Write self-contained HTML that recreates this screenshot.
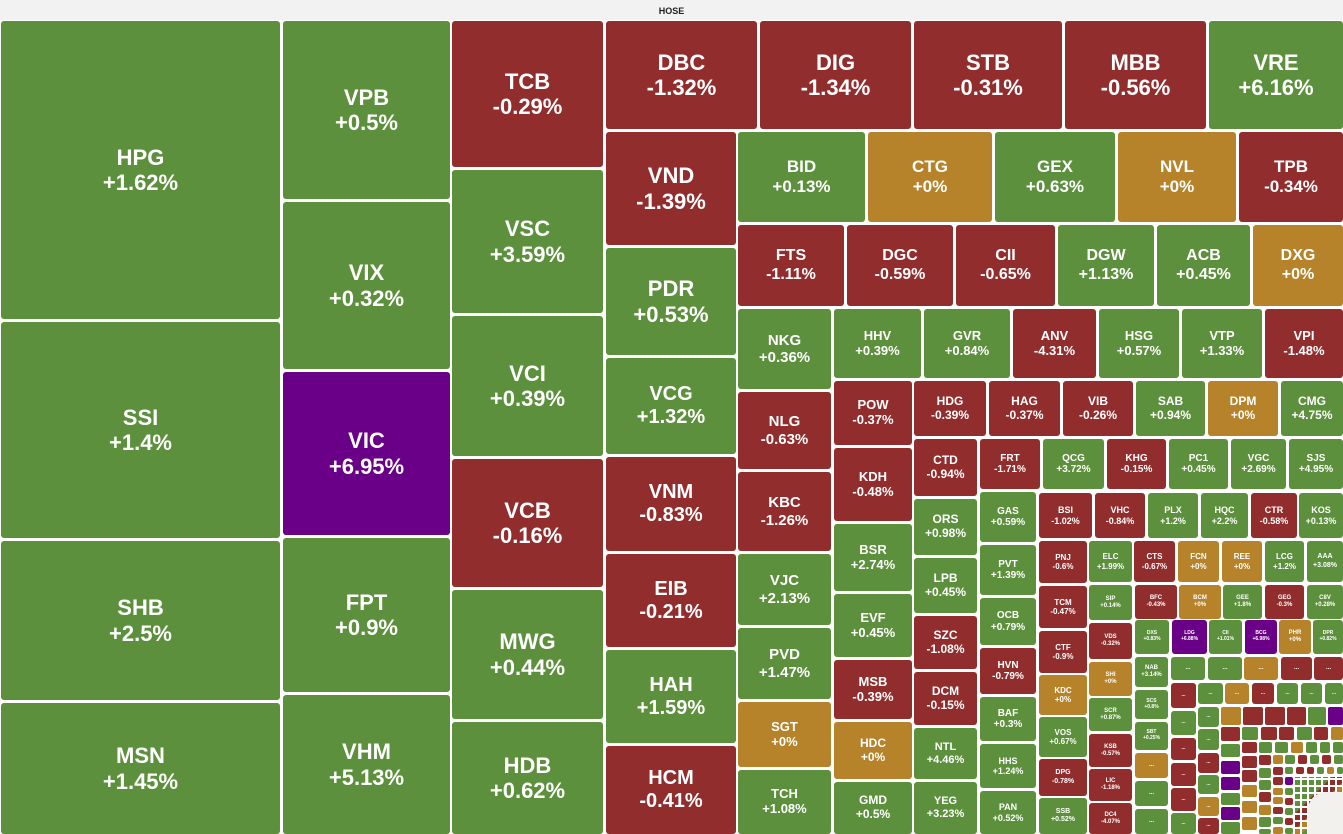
<!DOCTYPE html>
<html><head><meta charset="utf-8"><style>
body{margin:0;width:1343px;height:834px;background:#fff;position:relative;overflow:hidden;font-family:"Liberation Sans",Arial,sans-serif}
.t{position:absolute;left:0;top:0;width:1343px;height:20px;background:#f2f2f2;font-size:9px;font-weight:bold;text-align:center;line-height:22px;color:#222}
.c{position:absolute;display:flex;flex-direction:column;align-items:center;justify-content:center;color:#fff;font-weight:bold;border-radius:3px;line-height:1.15;text-align:center;overflow:hidden;white-space:nowrap}
.g{background:#5c903c}.r{background:#922d2e}.y{background:#b6822a}.p{background:#6b0088}
.s{position:absolute;border-radius:2px}
</style></head><body>
<div class="t">HOSE</div>
<div class="c g" style="left:1px;top:21px;width:279px;height:298px;font-size:22px">HPG<br>+1.62%</div>
<div class="c g" style="left:1px;top:322px;width:279px;height:216px;font-size:22px">SSI<br>+1.4%</div>
<div class="c g" style="left:1px;top:541px;width:279px;height:159px;font-size:22px">SHB<br>+2.5%</div>
<div class="c g" style="left:1px;top:703px;width:279px;height:131px;font-size:22px">MSN<br>+1.45%</div>
<div class="c g" style="left:283px;top:21px;width:167px;height:178px;font-size:22px">VPB<br>+0.5%</div>
<div class="c g" style="left:283px;top:202px;width:167px;height:167px;font-size:22px">VIX<br>+0.32%</div>
<div class="c p" style="left:283px;top:372px;width:167px;height:163px;font-size:22px">VIC<br>+6.95%</div>
<div class="c g" style="left:283px;top:538px;width:167px;height:154px;font-size:22px">FPT<br>+0.9%</div>
<div class="c g" style="left:283px;top:695px;width:167px;height:139px;font-size:22px">VHM<br>+5.13%</div>
<div class="c r" style="left:452px;top:21px;width:151px;height:146px;font-size:22px">TCB<br>-0.29%</div>
<div class="c g" style="left:452px;top:170px;width:151px;height:143px;font-size:22px">VSC<br>+3.59%</div>
<div class="c g" style="left:452px;top:316px;width:151px;height:140px;font-size:22px">VCI<br>+0.39%</div>
<div class="c r" style="left:452px;top:459px;width:151px;height:128px;font-size:22px">VCB<br>-0.16%</div>
<div class="c g" style="left:452px;top:590px;width:151px;height:129px;font-size:22px">MWG<br>+0.44%</div>
<div class="c g" style="left:452px;top:722px;width:151px;height:112px;font-size:22px">HDB<br>+0.62%</div>
<div class="c r" style="left:606px;top:21px;width:151px;height:108px;font-size:22px">DBC<br>-1.32%</div>
<div class="c r" style="left:760px;top:21px;width:151px;height:108px;font-size:22px">DIG<br>-1.34%</div>
<div class="c r" style="left:914px;top:21px;width:148px;height:108px;font-size:22px">STB<br>-0.31%</div>
<div class="c r" style="left:1065px;top:21px;width:141px;height:108px;font-size:22px">MBB<br>-0.56%</div>
<div class="c g" style="left:1209px;top:21px;width:134px;height:108px;font-size:22px">VRE<br>+6.16%</div>
<div class="c r" style="left:606px;top:132px;width:130px;height:113px;font-size:22px">VND<br>-1.39%</div>
<div class="c g" style="left:606px;top:248px;width:130px;height:107px;font-size:22px">PDR<br>+0.53%</div>
<div class="c g" style="left:606px;top:358px;width:130px;height:96px;font-size:20px">VCG<br>+1.32%</div>
<div class="c r" style="left:606px;top:457px;width:130px;height:94px;font-size:20px">VNM<br>-0.83%</div>
<div class="c r" style="left:606px;top:554px;width:130px;height:93px;font-size:20px">EIB<br>-0.21%</div>
<div class="c g" style="left:606px;top:650px;width:130px;height:93px;font-size:20px">HAH<br>+1.59%</div>
<div class="c r" style="left:606px;top:746px;width:130px;height:88px;font-size:20px">HCM<br>-0.41%</div>
<div class="c g" style="left:738px;top:132px;width:127px;height:90px;font-size:17px">BID<br>+0.13%</div>
<div class="c y" style="left:868px;top:132px;width:124px;height:90px;font-size:17px">CTG<br>+0%</div>
<div class="c g" style="left:995px;top:132px;width:120px;height:90px;font-size:17px">GEX<br>+0.63%</div>
<div class="c y" style="left:1118px;top:132px;width:118px;height:90px;font-size:17px">NVL<br>+0%</div>
<div class="c r" style="left:1239px;top:132px;width:104px;height:90px;font-size:17px">TPB<br>-0.34%</div>
<div class="c r" style="left:738px;top:225px;width:106px;height:81px;font-size:16px">FTS<br>-1.11%</div>
<div class="c r" style="left:847px;top:225px;width:106px;height:81px;font-size:16px">DGC<br>-0.59%</div>
<div class="c r" style="left:956px;top:225px;width:99px;height:81px;font-size:16px">CII<br>-0.65%</div>
<div class="c g" style="left:1058px;top:225px;width:96px;height:81px;font-size:16px">DGW<br>+1.13%</div>
<div class="c g" style="left:1157px;top:225px;width:93px;height:81px;font-size:16px">ACB<br>+0.45%</div>
<div class="c y" style="left:1253px;top:225px;width:90px;height:81px;font-size:16px">DXG<br>+0%</div>
<div class="c g" style="left:738px;top:309px;width:93px;height:80px;font-size:15px">NKG<br>+0.36%</div>
<div class="c g" style="left:834px;top:309px;width:87px;height:69px;font-size:13px">HHV<br>+0.39%</div>
<div class="c g" style="left:924px;top:309px;width:86px;height:69px;font-size:13px">GVR<br>+0.84%</div>
<div class="c r" style="left:1013px;top:309px;width:83px;height:69px;font-size:13px">ANV<br>-4.31%</div>
<div class="c g" style="left:1099px;top:309px;width:80px;height:69px;font-size:13px">HSG<br>+0.57%</div>
<div class="c g" style="left:1182px;top:309px;width:80px;height:69px;font-size:13px">VTP<br>+1.33%</div>
<div class="c r" style="left:1265px;top:309px;width:78px;height:69px;font-size:13px">VPI<br>-1.48%</div>
<div class="c r" style="left:738px;top:392px;width:93px;height:77px;font-size:15px">NLG<br>-0.63%</div>
<div class="c r" style="left:738px;top:472px;width:93px;height:79px;font-size:15px">KBC<br>-1.26%</div>
<div class="c g" style="left:738px;top:554px;width:93px;height:71px;font-size:15px">VJC<br>+2.13%</div>
<div class="c g" style="left:738px;top:628px;width:93px;height:71px;font-size:15px">PVD<br>+1.47%</div>
<div class="c y" style="left:738px;top:702px;width:93px;height:65px;font-size:13px">SGT<br>+0%</div>
<div class="c g" style="left:738px;top:770px;width:93px;height:64px;font-size:13px">TCH<br>+1.08%</div>
<div class="c r" style="left:834px;top:381px;width:78px;height:64px;font-size:13px">POW<br>-0.37%</div>
<div class="c r" style="left:834px;top:448px;width:78px;height:73px;font-size:13px">KDH<br>-0.48%</div>
<div class="c g" style="left:834px;top:524px;width:78px;height:67px;font-size:13px">BSR<br>+2.74%</div>
<div class="c g" style="left:834px;top:594px;width:78px;height:63px;font-size:13px">EVF<br>+0.45%</div>
<div class="c r" style="left:834px;top:660px;width:78px;height:59px;font-size:13px">MSB<br>-0.39%</div>
<div class="c y" style="left:834px;top:722px;width:78px;height:57px;font-size:12px">HDC<br>+0%</div>
<div class="c g" style="left:834px;top:782px;width:78px;height:52px;font-size:12px">GMD<br>+0.5%</div>
<div class="c r" style="left:914px;top:381px;width:72px;height:55px;font-size:12px">HDG<br>-0.39%</div>
<div class="c r" style="left:989px;top:381px;width:71px;height:55px;font-size:12px">HAG<br>-0.37%</div>
<div class="c r" style="left:1063px;top:381px;width:70px;height:55px;font-size:12px">VIB<br>-0.26%</div>
<div class="c g" style="left:1136px;top:381px;width:69px;height:55px;font-size:12px">SAB<br>+0.94%</div>
<div class="c y" style="left:1208px;top:381px;width:70px;height:55px;font-size:12px">DPM<br>+0%</div>
<div class="c g" style="left:1281px;top:381px;width:62px;height:55px;font-size:12px">CMG<br>+4.75%</div>
<div class="c r" style="left:914px;top:439px;width:63px;height:57px;font-size:12px">CTD<br>-0.94%</div>
<div class="c g" style="left:914px;top:499px;width:63px;height:56px;font-size:12px">ORS<br>+0.98%</div>
<div class="c g" style="left:914px;top:558px;width:63px;height:55px;font-size:12px">LPB<br>+0.45%</div>
<div class="c r" style="left:914px;top:616px;width:63px;height:53px;font-size:12px">SZC<br>-1.08%</div>
<div class="c r" style="left:914px;top:672px;width:63px;height:53px;font-size:12px">DCM<br>-0.15%</div>
<div class="c g" style="left:914px;top:728px;width:63px;height:51px;font-size:11px">NTL<br>+4.46%</div>
<div class="c g" style="left:914px;top:782px;width:63px;height:52px;font-size:11px">YEG<br>+3.23%</div>
<div class="c r" style="left:980px;top:439px;width:60px;height:50px;font-size:10px">FRT<br>-1.71%</div>
<div class="c g" style="left:1043px;top:439px;width:61px;height:50px;font-size:10px">QCG<br>+3.72%</div>
<div class="c r" style="left:1107px;top:439px;width:59px;height:50px;font-size:10px">KHG<br>-0.15%</div>
<div class="c g" style="left:1169px;top:439px;width:59px;height:50px;font-size:10px">PC1<br>+0.45%</div>
<div class="c g" style="left:1231px;top:439px;width:55px;height:50px;font-size:10px">VGC<br>+2.69%</div>
<div class="c g" style="left:1289px;top:439px;width:54px;height:50px;font-size:10px">SJS<br>+4.95%</div>
<div class="c g" style="left:980px;top:492px;width:56px;height:50px;font-size:10px">GAS<br>+0.59%</div>
<div class="c g" style="left:980px;top:545px;width:56px;height:50px;font-size:10px">PVT<br>+1.39%</div>
<div class="c g" style="left:980px;top:598px;width:56px;height:47px;font-size:10px">OCB<br>+0.79%</div>
<div class="c r" style="left:980px;top:648px;width:56px;height:46px;font-size:10px">HVN<br>-0.79%</div>
<div class="c g" style="left:980px;top:697px;width:56px;height:44px;font-size:10px">BAF<br>+0.3%</div>
<div class="c g" style="left:980px;top:744px;width:56px;height:44px;font-size:9px">HHS<br>+1.24%</div>
<div class="c g" style="left:980px;top:791px;width:56px;height:43px;font-size:9px">PAN<br>+0.52%</div>
<div class="c r" style="left:1039px;top:493px;width:53px;height:45px;font-size:9px">BSI<br>-1.02%</div>
<div class="c r" style="left:1095px;top:493px;width:50px;height:45px;font-size:9px">VHC<br>-0.84%</div>
<div class="c g" style="left:1148px;top:493px;width:50px;height:45px;font-size:9px">PLX<br>+1.2%</div>
<div class="c g" style="left:1201px;top:493px;width:47px;height:45px;font-size:9px">HQC<br>+2.2%</div>
<div class="c r" style="left:1251px;top:493px;width:46px;height:45px;font-size:9px">CTR<br>-0.58%</div>
<div class="c g" style="left:1299px;top:493px;width:44px;height:45px;font-size:9px">KOS<br>+0.13%</div>
<div class="c r" style="left:1039px;top:541px;width:48px;height:42px;font-size:8px">PNJ<br>-0.6%</div>
<div class="c r" style="left:1039px;top:586px;width:48px;height:42px;font-size:8px">TCM<br>-0.47%</div>
<div class="c r" style="left:1039px;top:631px;width:48px;height:42px;font-size:8px">CTF<br>-0.9%</div>
<div class="c y" style="left:1039px;top:675px;width:48px;height:40px;font-size:8px">KDC<br>+0%</div>
<div class="c g" style="left:1039px;top:717px;width:48px;height:40px;font-size:8px">VOS<br>+0.67%</div>
<div class="c r" style="left:1039px;top:759px;width:48px;height:37px;font-size:7px">DPG<br>-0.78%</div>
<div class="c g" style="left:1039px;top:798px;width:48px;height:36px;font-size:7px">SSB<br>+0.52%</div>
<div class="c g" style="left:1089px;top:541px;width:43px;height:41px;font-size:8px">ELC<br>+1.99%</div>
<div class="c g" style="left:1089px;top:585px;width:43px;height:35px;font-size:6px">SIP<br>+0.14%</div>
<div class="c r" style="left:1089px;top:623px;width:43px;height:36px;font-size:6px">VDS<br>-0.32%</div>
<div class="c y" style="left:1089px;top:662px;width:43px;height:34px;font-size:6px">SHI<br>+0%</div>
<div class="c g" style="left:1089px;top:698px;width:43px;height:33px;font-size:6px">SCR<br>+0.87%</div>
<div class="c r" style="left:1089px;top:734px;width:43px;height:33px;font-size:6px">KSB<br>-0.57%</div>
<div class="c r" style="left:1089px;top:769px;width:43px;height:32px;font-size:6px">LIC<br>-1.18%</div>
<div class="c r" style="left:1089px;top:803px;width:43px;height:31px;font-size:6px">DC4<br>-4.07%</div>
<div class="c r" style="left:1134px;top:541px;width:41px;height:41px;font-size:8px">CTS<br>-0.67%</div>
<div class="c y" style="left:1178px;top:541px;width:41px;height:41px;font-size:8px">FCN<br>+0%</div>
<div class="c y" style="left:1222px;top:541px;width:40px;height:41px;font-size:8px">REE<br>+0%</div>
<div class="c g" style="left:1265px;top:541px;width:39px;height:41px;font-size:8px">LCG<br>+1.2%</div>
<div class="c g" style="left:1307px;top:541px;width:36px;height:41px;font-size:7px">AAA<br>+3.08%</div>
<div class="c r" style="left:1135px;top:585px;width:42px;height:34px;font-size:6px">BFC<br>-0.43%</div>
<div class="c y" style="left:1179px;top:585px;width:42px;height:34px;font-size:6px">BCM<br>+0%</div>
<div class="c g" style="left:1223px;top:585px;width:39px;height:34px;font-size:6px">GEE<br>+1.8%</div>
<div class="c r" style="left:1265px;top:585px;width:39px;height:34px;font-size:6px">GEG<br>-0.3%</div>
<div class="c g" style="left:1307px;top:585px;width:36px;height:34px;font-size:6px">C8V<br>+0.28%</div>
<div class="c g" style="left:1135px;top:620px;width:34px;height:34px;font-size:5px">DXS<br>+0.83%</div>
<div class="c p" style="left:1172px;top:620px;width:35px;height:34px;font-size:5px">LDG<br>+6.88%</div>
<div class="c g" style="left:1209px;top:620px;width:33px;height:34px;font-size:5px">CII<br>+1.01%</div>
<div class="c p" style="left:1245px;top:620px;width:32px;height:34px;font-size:5px">BCG<br>+6.98%</div>
<div class="c y" style="left:1279px;top:620px;width:32px;height:34px;font-size:6px">PHR<br>+0%</div>
<div class="c g" style="left:1313px;top:620px;width:30px;height:34px;font-size:5px">DPR<br>+0.82%</div>
<div class="c g" style="left:1135px;top:657px;width:33px;height:30px;font-size:6px">NAB<br>+3.14%</div>
<div class="c g" style="left:1135px;top:690px;width:33px;height:29px;font-size:5px">SCS<br>+0.8%</div>
<div class="c g" style="left:1135px;top:722px;width:33px;height:28px;font-size:5px">SBT<br>+0.25%</div>
<div class="c y" style="left:1135px;top:753px;width:33px;height:25px;font-size:6px">...</div>
<div class="c g" style="left:1135px;top:781px;width:33px;height:25px;font-size:6px">...</div>
<div class="c g" style="left:1135px;top:809px;width:33px;height:25px;font-size:6px">...</div>
<div class="c g" style="left:1171px;top:657px;width:34px;height:23px;font-size:6px">...</div>
<div class="c g" style="left:1208px;top:657px;width:34px;height:23px;font-size:6px">...</div>
<div class="c y" style="left:1244px;top:657px;width:34px;height:23px;font-size:6px">...</div>
<div class="c r" style="left:1281px;top:657px;width:31px;height:23px;font-size:6px">...</div>
<div class="c r" style="left:1314px;top:657px;width:29px;height:23px;font-size:6px">...</div>
<div class="c r" style="left:1171px;top:683px;width:25px;height:25px;font-size:5px">...</div>
<div class="c g" style="left:1198px;top:683px;width:25px;height:21px;font-size:5px">...</div>
<div class="c y" style="left:1225px;top:683px;width:24px;height:21px;font-size:5px">...</div>
<div class="c r" style="left:1252px;top:683px;width:22px;height:21px;font-size:5px">...</div>
<div class="c g" style="left:1277px;top:683px;width:21px;height:21px;font-size:5px">...</div>
<div class="c g" style="left:1301px;top:683px;width:21px;height:21px;font-size:5px">...</div>
<div class="c g" style="left:1325px;top:683px;width:18px;height:21px;font-size:5px">...</div>
<div class="c g" style="left:1171px;top:711px;width:25px;height:24px;font-size:5px">...</div>
<div class="c r" style="left:1171px;top:738px;width:25px;height:22px;font-size:5px">...</div>
<div class="c r" style="left:1171px;top:763px;width:25px;height:23px;font-size:5px">...</div>
<div class="c r" style="left:1171px;top:788px;width:25px;height:23px;font-size:5px">...</div>
<div class="c g" style="left:1171px;top:813px;width:25px;height:21px;font-size:5px">...</div>
<div class="c g" style="left:1198px;top:707px;width:21px;height:20px;font-size:5px">...</div>
<div class="c g" style="left:1198px;top:729px;width:21px;height:21px;font-size:5px">...</div>
<div class="c r" style="left:1198px;top:753px;width:21px;height:20px;font-size:5px">...</div>
<div class="c g" style="left:1198px;top:775px;width:21px;height:19px;font-size:5px">...</div>
<div class="c y" style="left:1198px;top:797px;width:21px;height:19px;font-size:5px">...</div>
<div class="c r" style="left:1198px;top:818px;width:21px;height:16px;font-size:5px">...</div>
<div class="s y" style="left:1221px;top:707px;width:20px;height:18px"></div>
<div class="s r" style="left:1243px;top:707px;width:20px;height:18px"></div>
<div class="s r" style="left:1265px;top:707px;width:20px;height:18px"></div>
<div class="s r" style="left:1287px;top:707px;width:19px;height:18px"></div>
<div class="s g" style="left:1308px;top:707px;width:18px;height:18px"></div>
<div class="s p" style="left:1328px;top:707px;width:15px;height:18px"></div>
<!-- ring 1 -->
<div class="s r" style="left:1221px;top:727px;width:19px;height:14px"></div>
<div class="s g" style="left:1242px;top:727px;width:16px;height:13px"></div>
<div class="s r" style="left:1261px;top:727px;width:16px;height:13px"></div>
<div class="s r" style="left:1279px;top:727px;width:15px;height:13px"></div>
<div class="s g" style="left:1297px;top:727px;width:15px;height:13px"></div>
<div class="s r" style="left:1314px;top:727px;width:14px;height:13px"></div>
<div class="s y" style="left:1331px;top:727px;width:12px;height:13px"></div>
<div class="s g" style="left:1221px;top:744px;width:19px;height:13px"></div>
<div class="s p" style="left:1221px;top:761px;width:19px;height:13px"></div>
<div class="s p" style="left:1221px;top:777px;width:19px;height:13px"></div>
<div class="s g" style="left:1221px;top:793px;width:19px;height:12px"></div>
<div class="s p" style="left:1221px;top:807px;width:19px;height:13px"></div>
<div class="s g" style="left:1221px;top:822px;width:19px;height:12px"></div>
<div class="s r" style="left:1242px;top:742px;width:15px;height:11px"></div>
<div class="s g" style="left:1259px;top:742px;width:13px;height:11px"></div>
<div class="s g" style="left:1275px;top:742px;width:13px;height:11px"></div>
<div class="s y" style="left:1291px;top:742px;width:12px;height:11px"></div>
<div class="s g" style="left:1306px;top:742px;width:11px;height:11px"></div>
<div class="s g" style="left:1320px;top:742px;width:10px;height:11px"></div>
<div class="s g" style="left:1333px;top:742px;width:10px;height:11px"></div>
<div class="s r" style="left:1242px;top:756px;width:15px;height:12px"></div>
<div class="s r" style="left:1242px;top:770px;width:15px;height:12px"></div>
<div class="s y" style="left:1242px;top:785px;width:15px;height:12px"></div>
<div class="s y" style="left:1242px;top:801px;width:15px;height:12px"></div>
<div class="s y" style="left:1242px;top:817px;width:15px;height:13px"></div>
<div class="s r" style="left:1259px;top:755px;width:12px;height:10px"></div>
<div class="s g" style="left:1259px;top:768px;width:12px;height:10px"></div>
<div class="s g" style="left:1259px;top:780px;width:12px;height:10px"></div>
<div class="s r" style="left:1259px;top:792px;width:12px;height:10px"></div>
<div class="s y" style="left:1259px;top:805px;width:12px;height:10px"></div>
<div class="s g" style="left:1259px;top:817px;width:12px;height:10px"></div>
<div class="s g" style="left:1259px;top:829px;width:12px;height:5px"></div>
<div class="s y" style="left:1273px;top:755px;width:10px;height:9px"></div>
<div class="s r" style="left:1273px;top:767px;width:10px;height:8px"></div>
<div class="s r" style="left:1273px;top:777px;width:10px;height:8px"></div>
<div class="s y" style="left:1273px;top:788px;width:10px;height:7px"></div>
<div class="s y" style="left:1273px;top:797px;width:10px;height:7px"></div>
<div class="s r" style="left:1273px;top:807px;width:10px;height:7px"></div>
<div class="s g" style="left:1273px;top:817px;width:10px;height:7px"></div>
<div class="s y" style="left:1273px;top:827px;width:10px;height:7px"></div>
<div class="s g" style="left:1285px;top:755px;width:10px;height:9px"></div>
<div class="s r" style="left:1298px;top:755px;width:9px;height:9px"></div>
<div class="s g" style="left:1310px;top:755px;width:9px;height:9px"></div>
<div class="s r" style="left:1322px;top:755px;width:9px;height:9px"></div>
<div class="s g" style="left:1334px;top:755px;width:9px;height:9px"></div>
<div class="s g" style="left:1285px;top:767px;width:8px;height:7px"></div>
<div class="s r" style="left:1296px;top:767px;width:8px;height:7px"></div>
<div class="s r" style="left:1307px;top:767px;width:7px;height:7px"></div>
<div class="s g" style="left:1317px;top:767px;width:7px;height:7px"></div>
<div class="s y" style="left:1327px;top:767px;width:7px;height:7px"></div>
<div class="s g" style="left:1337px;top:767px;width:6px;height:7px"></div>
<div class="s p" style="left:1285px;top:777px;width:8px;height:8px"></div>
<div class="s g" style="left:1285px;top:788px;width:8px;height:7px"></div>
<div class="s r" style="left:1285px;top:798px;width:8px;height:7px"></div>
<div class="s g" style="left:1285px;top:808px;width:8px;height:7px"></div>
<div class="s r" style="left:1285px;top:818px;width:8px;height:7px"></div>
<div class="s g" style="left:1285px;top:828px;width:8px;height:6px"></div>
<div style="position:absolute;left:1295px;top:777px;width:48px;height:57px;background:
repeating-linear-gradient(90deg,transparent 0 5px,#fff 5px 7px),
repeating-linear-gradient(0deg,transparent 0 5px,#fff 5px 7px),
linear-gradient(135deg,#5c903c 0 35%,#922d2e 35% 50%,#b6822a 50% 60%,#5c903c 60%)"></div>
<div style="position:absolute;left:1308px;top:792px;width:35px;height:42px;background:#f3f1ee;border-radius:18px 0 0 0"></div>
</body></html>
